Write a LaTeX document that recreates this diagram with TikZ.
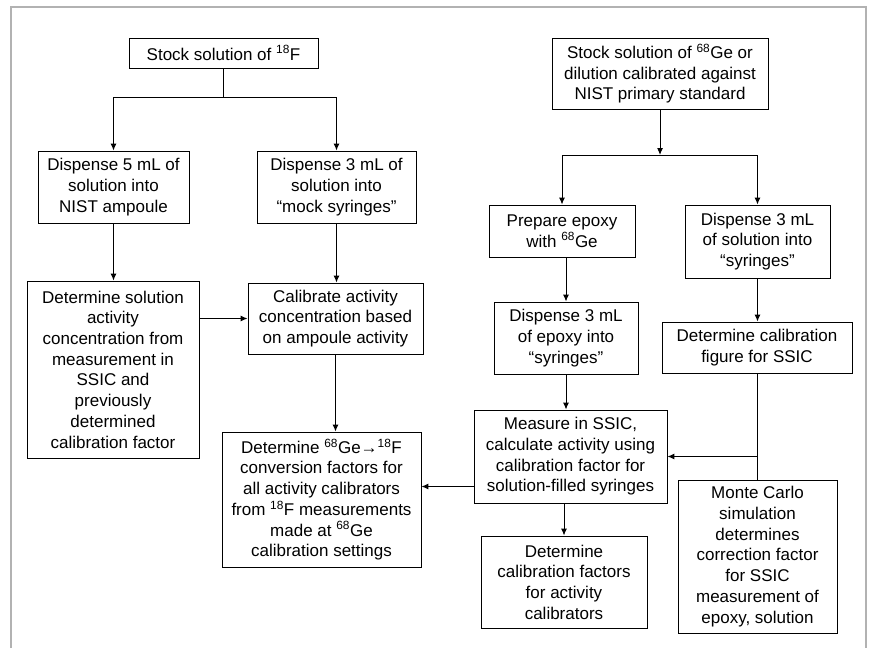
\documentclass[tikz,border=0pt]{standalone}
\usepackage{fontspec}
\setmainfont{Liberation Sans}
\usetikzlibrary{arrows.meta}

\tikzset{
  stepbox/.style={draw, line width=0.9pt, align=center, inner sep=0pt},
  flow/.style={-{Latex[length=7pt,width=6pt]}, line width=1pt},
  link/.style={line width=1pt}
}

\begin{document}
\begin{tikzpicture}[x=1pt, y=-1pt, font=\fontsize{17}{20.7}\selectfont]
      \useasboundingbox (0,0) rectangle (870,648);

      % Draw the grey frame round the chart
      \draw[line width=1.6pt, gray!60] (11,648) -- (11,7) -- (866,7) -- (866,648);

      % 18F branch on the left
      \node[stepbox, minimum width=189, minimum height=30] (stockF) at (223.5,53) {Stock solution of \textsuperscript{18}F};
      \node[stepbox, minimum width=151, minimum height=72] (ampoule) at (113.5,187) {Dispense 5 mL of\\solution into\\NIST ampoule};
      \node[stepbox, minimum width=159, minimum height=72] (mock) at (336.5,187) {Dispense 3 mL of\\solution into\\“mock syringes”};
      \node[stepbox, minimum width=172, minimum height=177] (solact) at (113,369.5) {Determine solution\\activity\\concentration from\\measurement in\\SSIC and\\previously\\determined\\calibration factor};
      \node[stepbox, minimum width=175, minimum height=71] (calib) at (335.5,318.5) {Calibrate activity\\concentration based\\on ampoule activity};
      \node[stepbox, minimum width=199, minimum height=135] (convert) at (321.5,499.5) {Determine \textsuperscript{68}Ge→\textsuperscript{18}F\\conversion factors for\\all activity calibrators\\from \textsuperscript{18}F measurements\\made at \textsuperscript{68}Ge\\calibration settings};

      % 68Ge branch on the right
      \node[stepbox, minimum width=216, minimum height=71] (stockGe) at (660,73.5) {Stock solution of \textsuperscript{68}Ge or\\dilution calibrated against\\NIST primary standard};
      \node[stepbox, minimum width=146, minimum height=52] (epoxy) at (562,231) {Prepare epoxy\\with \textsuperscript{68}Ge};
      \node[stepbox, minimum width=145, minimum height=73] (syringe) at (757.5,241.5) {Dispense 3 mL\\of solution into\\“syringes”};
      \node[stepbox, minimum width=144, minimum height=72] (epoxysyr) at (566,338) {Dispense 3 mL\\of epoxy into\\“syringes”};
      \node[stepbox, minimum width=190, minimum height=51] (figure) at (757,347.5) {Determine calibration\\figure for SSIC};
      \node[stepbox, minimum width=193, minimum height=93] (measure) at (570.5,456.5) {Measure in SSIC,\\calculate activity using\\calibration factor for\\solution-filled syringes};
      \node[stepbox, minimum width=159, minimum height=153] (monte) at (757.5,556.5) {Monte Carlo\\simulation\\determines\\correction factor\\for SSIC\\measurement of\\epoxy, solution};
      \node[stepbox, minimum width=166, minimum height=92] (factors) at (564,582) {Determine\\calibration factors\\for activity\\calibrators};

      % Split points under the two stock solutions
      \coordinate (splitF) at (223.5,97);
      \coordinate (splitGe) at (660,155);

      % Connectors of the 18F branch
      \draw[link] (stockF) -- (splitF);
      \draw[flow] (splitF) -| (ampoule);
      \draw[flow] (splitF) -| (mock);
      \draw[flow] (ampoule) -- (ampoule |- solact.north);
      \draw[flow] (mock) -- (mock |- calib.north);
      \draw[flow] (solact.east |- calib.west) -- (calib.west);
      \draw[flow] (calib) -- (calib |- convert.north);

      % Connectors of the 68Ge branch
      \draw[flow] (stockGe) -- (splitGe);
      \draw[flow] (splitGe) -| (epoxy);
      \draw[flow] (splitGe) -| (syringe);
      \draw[flow] (epoxysyr |- epoxy.south) -- (epoxysyr);
      \draw[flow] (syringe) -- (syringe |- figure.north);
      \draw[flow] (epoxysyr) -- (epoxysyr |- measure.north);
      \draw[link] (figure) -- (figure |- monte.north);
      \draw[flow] (figure |- measure.east) -- (measure.east);
      \draw[flow] (factors |- measure.south) -- (factors);
      \draw[flow] ([yshift=-30pt]measure.west) coordinate (lf) -- (lf -| convert.east);
    \end{tikzpicture}
\end{document}
